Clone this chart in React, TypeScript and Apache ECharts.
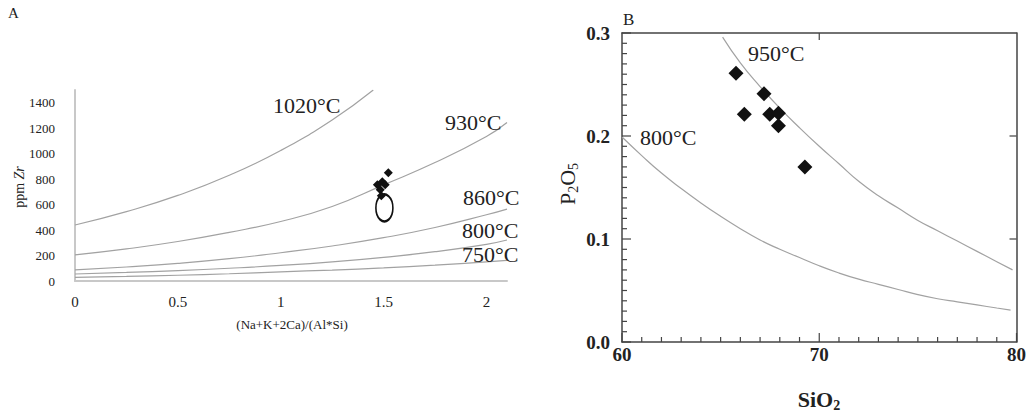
import React, { useEffect, useRef } from "react";
import * as echarts from "echarts";

// ---------- Panel A: Zr saturation curves ----------
const zrX = [0, 0.25, 0.5, 0.75, 1.0, 1.25, 1.5, 1.75, 2.0, 2.1];
const zr1020X = [0, 0.25, 0.5, 0.75, 1.0, 1.25, 1.45];
const zr1020 = [440, 545, 672, 830, 1025, 1265, 1500];
const zr930 = [205, 252, 310, 382, 467, 585, 755, 930, 1135, 1245];
const zr860 = [87, 110, 138, 175, 222, 275, 340, 420, 520, 565];
const zr800 = [55, 67, 82, 100, 122, 150, 186, 230, 288, 322];
const zr750 = [29, 36, 45, 57, 72, 86, 103, 124, 150, 162];
const sampleM = [1.523, 1.494, 1.47, 1.508, 1.484, 1.489];
const sampleZr = [850, 779, 755, 755, 716, 669];
const fieldM = [1.504];
const fieldZr = [574];

// ---------- Panel B: apatite saturation ----------
const si950 = [65.1, 66, 67, 68, 69, 70, 71, 72, 73, 74, 75, 76, 77, 78, 79, 79.8];
const p950 = [0.296, 0.271, 0.248, 0.227, 0.208, 0.19, 0.173, 0.156, 0.142, 0.13, 0.118, 0.108, 0.098, 0.088, 0.078, 0.07];
const si800 = [60, 61, 62, 63, 64, 65, 66, 67, 68, 69, 70, 71, 72, 73, 74, 75, 76, 77, 78, 79, 79.7];
const p800 = [0.199, 0.181, 0.164, 0.149, 0.135, 0.122, 0.11, 0.099, 0.09, 0.082, 0.074, 0.067, 0.061, 0.056, 0.051, 0.046, 0.042, 0.039, 0.036, 0.033, 0.031];
const sampleSi = [65.78, 67.2, 66.2, 67.49, 67.93, 67.93, 69.27];
const sampleP = [0.261, 0.241, 0.221, 0.221, 0.222, 0.21, 0.17];

// Panel B tick positions (axis values)
const tickMajorX = [60, 70, 80];
const tickMinorX = [61, 62, 63, 64, 65, 66, 67, 68, 69, 71, 72, 73, 74, 75, 76, 77, 78, 79];
const tickTopX = [70];
const tickMajorY = [0, 0.1, 0.2, 0.3];
const tickMinorY = [
  0.01, 0.02, 0.03, 0.04, 0.05, 0.06, 0.07, 0.08, 0.09,
  0.11, 0.12, 0.13, 0.14, 0.15, 0.16, 0.17, 0.18, 0.19,
  0.21, 0.22, 0.23, 0.24, 0.25, 0.26, 0.27, 0.28, 0.29,
];
const tickRightY = [0.1, 0.2];

const FONT = "Liberation Serif";
const CURVE = "#a2a2a2";
const AXIS_B = "#444";

const pairs = (xs: number[], ys: number[]) => xs.map((x, i) => [x, ys[i]]);

function curve(name: string, xs: number[], ys: number[]) {
  return {
    name,
    type: "line",
    data: pairs(xs, ys),
    smooth: true,
    showSymbol: false,
    symbol: "none",
    lineStyle: { color: CURVE, width: 1.2 },
    silent: true,
    z: 2,
  };
}

function txt(text: string, x: number, y: number, size: number, extra: any = {}) {
  return {
    type: "text",
    x,
    y,
    z: 10,
    style: {
      text,
      fontSize: size,
      fontFamily: FONT,
      fill: "#222",
      align: "left",
      verticalAlign: "middle",
      textAlign: "left",
      textVerticalAlign: "middle",
      ...extra,
    },
  };
}

const subRich = (size: number, subSize: number, weight: string) => ({
  a: { fontSize: size, fontFamily: FONT, fontWeight: weight, fill: "#222", color: "#222", lineHeight: size + 4 },
  b: { fontSize: subSize, fontFamily: FONT, fontWeight: weight, fill: "#222", color: "#222", lineHeight: subSize, verticalAlign: "bottom" },
});

function optionA(): any {
  return {
    animation: false,
    grid: { left: 75, top: 90, width: 432, height: 191 },
    xAxis: {
      type: "value",
      min: 0,
      max: 2.1,
      interval: 0.5,
      axisLine: { show: true, onZero: false, lineStyle: { color: "#c8c8c8", width: 2 } },
      axisTick: { show: false },
      splitLine: { show: false },
      axisLabel: { fontFamily: FONT, fontSize: 15, color: "#222", margin: 13, showMaxLabel: false, formatter: (v: number) => String(v) },
    },
    yAxis: {
      type: "value",
      min: 0,
      max: 1500,
      interval: 200,
      axisLine: { show: true, onZero: false, lineStyle: { color: "#c8c8c8", width: 2 } },
      axisTick: { show: false },
      splitLine: { show: false },
      axisLabel: { fontFamily: FONT, fontSize: 13, color: "#222", margin: 20, showMaxLabel: false, formatter: (v: number) => String(v) },
    },
    series: [
      curve("1020°C", zr1020X, zr1020),
      curve("930°C", zrX, zr930),
      curve("860°C", zrX, zr860),
      curve("800°C", zrX, zr800),
      curve("750°C", zrX, zr750),
      {
        name: "field",
        type: "scatter",
        data: pairs(fieldM, fieldZr),
        symbol: "circle",
        symbolSize: [17, 27],
        itemStyle: { color: "rgba(0,0,0,0)", borderColor: "#111", borderWidth: 2, opacity: 1 },
        z: 4,
      },
      {
        name: "samples A",
        type: "scatter",
        data: pairs(sampleM, sampleZr),
        symbol: "diamond",
        symbolSize: 9,
        itemStyle: { color: "#111", opacity: 1 },
        z: 5,
      },
    ],
    graphic: [
      txt("A", 8, 13, 15),
      txt("1020°C", 273, 105, 22),
      txt("930°C", 445, 122, 22),
      txt("860°C", 463, 197, 22),
      txt("800°C", 462, 230, 22),
      txt("750°C", 462, 254, 22),
      txt("(Na+K+2Ca)/(Al*Si)", 292, 324, 13, { align: "center", textAlign: "center" }),
      {
        type: "text",
        x: 19,
        y: 187,
        rotation: Math.PI / 2,
        z: 10,
        style: {
          text: "{n|ppm }{i|Zr}",
          align: "center",
          verticalAlign: "middle",
          textAlign: "center",
          textVerticalAlign: "middle",
          rich: {
            n: { fontSize: 14, fontFamily: FONT, fill: "#222", color: "#222" },
            i: { fontSize: 14, fontFamily: FONT, fontStyle: "italic", fill: "#222", color: "#222" },
          },
        },
      },
    ],
  };
}

const L = 520; // left offset of panel B's own chart

function textsB(): any[] {
  return [
    txt("B", 623 - L, 19, 17),
    txt("950°C", 748 - L, 53, 22),
    txt("800°C", 640 - L, 137, 22),
    {
      type: "text",
      x: 567 - L,
      y: 184,
      rotation: Math.PI / 2,
      z: 10,
      style: {
        text: "{a|P}{b|2}{a|O}{b|5}",
        align: "center",
        verticalAlign: "middle",
        textAlign: "center",
        textVerticalAlign: "middle",
        rich: subRich(22, 14, "normal"),
      },
    },
    {
      type: "text",
      x: 819 - L,
      y: 399,
      z: 10,
      style: {
        text: "{a|SiO}{b|2}",
        align: "center",
        verticalAlign: "middle",
        textAlign: "center",
        textVerticalAlign: "middle",
        rich: subRich(22, 14, "bold"),
      },
    },
  ];
}

function optionB(): any {
  const xb = { type: "value", min: 60, max: 80, interval: 10 };
  const yb = { type: "value", min: 0, max: 0.3, interval: 0.1 };
  const line = () => ({ show: true, onZero: false, lineStyle: { color: AXIS_B, width: 1.5 } });
  return {
    animation: false,
    grid: { left: 622 - L, top: 33, width: 397, height: 309 },
    xAxis: [
      {
        ...xb,
        axisLine: line(),
        axisTick: { show: false },
        splitLine: { show: false },
        axisLabel: { fontFamily: FONT, fontSize: 19, fontWeight: "bold", color: "#222", margin: 3, formatter: (v: number) => String(v) },
      },
      { ...xb, position: "top", axisLine: line(), axisTick: { show: false }, splitLine: { show: false }, axisLabel: { show: false } },
    ],
    yAxis: [
      {
        ...yb,
        axisLine: line(),
        axisTick: { show: false },
        splitLine: { show: false },
        axisLabel: { fontFamily: FONT, fontSize: 19, fontWeight: "bold", color: "#222", margin: 12, formatter: (v: number) => v.toFixed(1) },
      },
      { ...yb, position: "right", axisLine: line(), axisTick: { show: false }, splitLine: { show: false }, axisLabel: { show: false } },
    ],
    series: [
      curve("950°C", si950, p950),
      curve("800°C", si800, p800),
      {
        name: "samples B",
        type: "scatter",
        data: pairs(sampleSi, sampleP),
        symbol: "diamond",
        symbolSize: 15,
        itemStyle: { color: "#111", opacity: 1 },
        z: 5,
      },
    ],
    graphic: textsB(),
  };
}

// Tick marks for panel B, placed through the chart's own scales
function ticksB(chart: any): any[] {
  const out: any[] = [];
  const add = (pt: number[], dx: number, dy: number, len: number) => {
    if (!pt || isNaN(pt[0]) || isNaN(pt[1])) return;
    out.push({
      type: "line",
      z: 20,
      silent: true,
      shape: { x1: pt[0], y1: pt[1], x2: pt[0] + dx * len, y2: pt[1] + dy * len },
      style: { stroke: AXIS_B, lineWidth: 1.2 },
    });
  };
  const px = (v: number[]) => chart.convertToPixel({ gridIndex: 0 }, v);
  tickMajorX.forEach((v) => add(px([v, 0]), 0, -1, 9));
  tickMinorX.forEach((v) => add(px([v, 0]), 0, -1, 5));
  tickTopX.forEach((v) => add(px([v, 0.3]), 0, 1, 7));
  tickMajorY.forEach((v) => add(px([60, v]), 1, 0, 9));
  tickMinorY.forEach((v) => add(px([60, v]), 1, 0, 5));
  tickRightY.forEach((v) => add(px([80, v]), -1, 0, 7));
  return out;
}

export default function App() {
  const refA = useRef<HTMLDivElement>(null);
  const refB = useRef<HTMLDivElement>(null);
  useEffect(() => {
    if (!refA.current || !refB.current) return;
    const a = echarts.init(refA.current, undefined, { renderer: "svg" });
    const b = echarts.init(refB.current, undefined, { renderer: "svg" });
    a.setOption(optionA());
    b.setOption(optionB());
    b.setOption({ graphic: [...textsB(), ...ticksB(b)] });
    return () => {
      a.dispose();
      b.dispose();
    };
  }, []);
  return (
    <div style={{ position: "absolute", left: 0, top: 0, width: 1029, height: 414, background: "#fff" }}>
      <div ref={refA} style={{ position: "absolute", left: 0, top: 0, width: 520, height: 414 }} />
      <div ref={refB} style={{ position: "absolute", left: 520, top: 0, width: 509, height: 414 }} />
    </div>
  );
}
